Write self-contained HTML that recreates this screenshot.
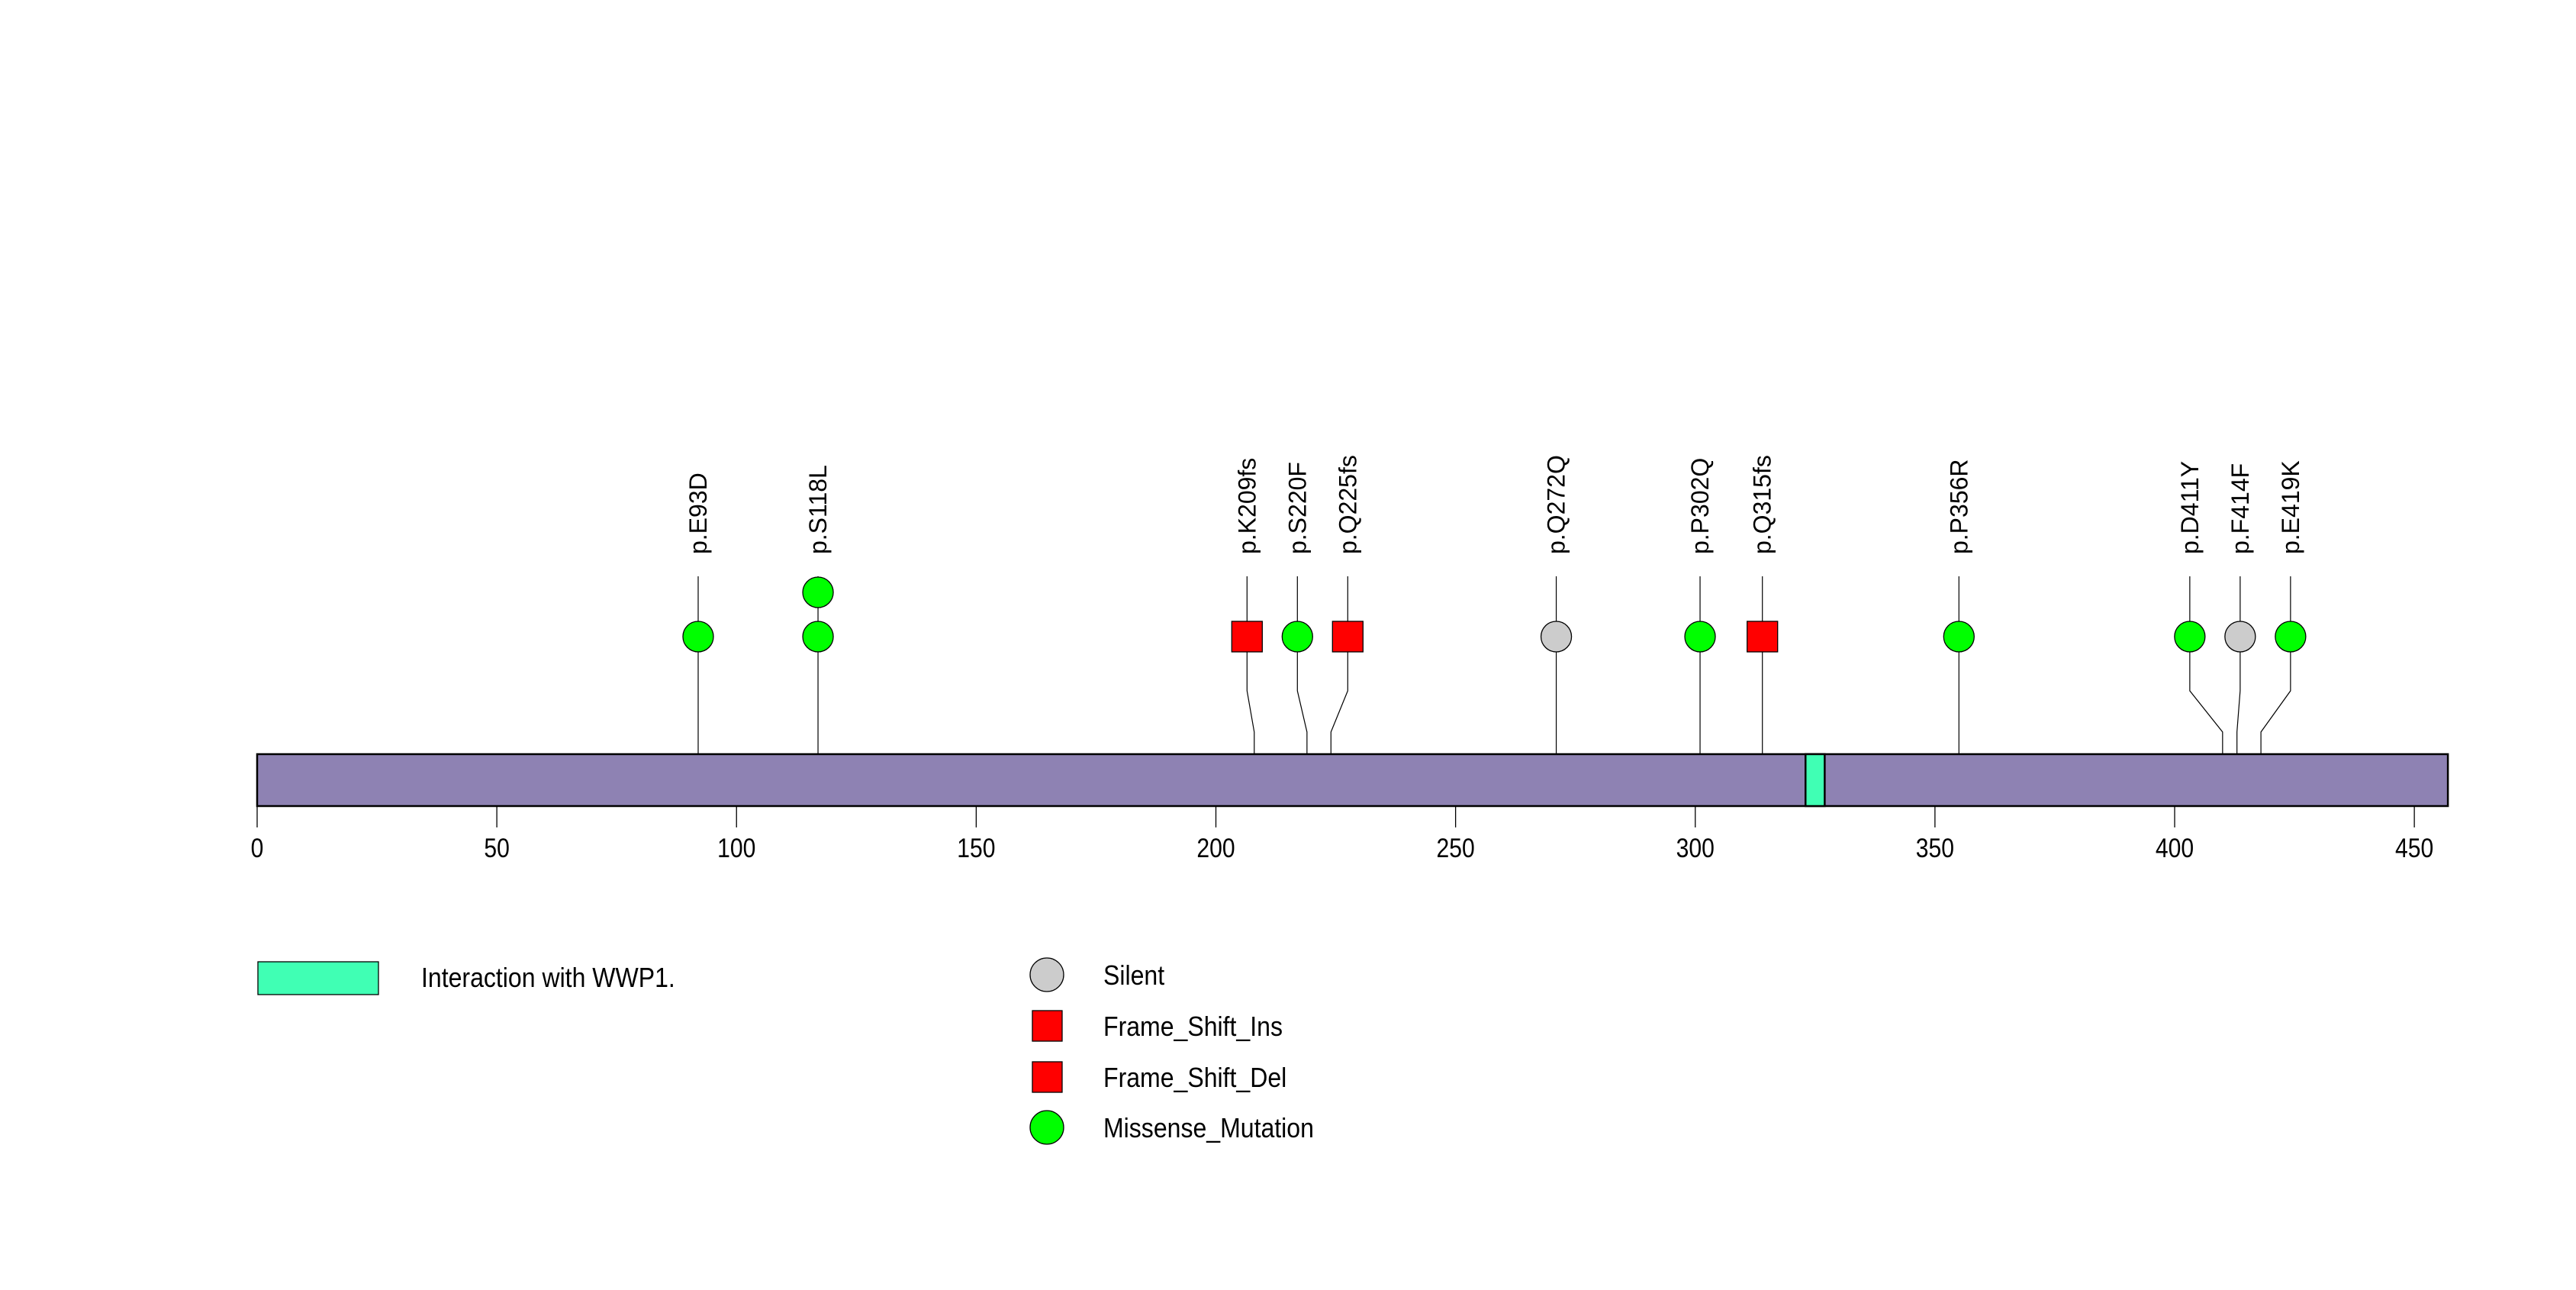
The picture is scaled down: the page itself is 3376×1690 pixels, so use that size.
<!DOCTYPE html>
<html><head><meta charset="utf-8"><style>
html,body{margin:0;padding:0;background:#fff;}
svg{display:block;}
text{font-family:"Liberation Sans",sans-serif;fill:#000;}
</style></head><body>
<svg id="chart" width="3376" height="1690" viewBox="0 0 3376 1690" xmlns="http://www.w3.org/2000/svg">
<g id="plot"></g>
<g id="legend"></g>
</svg>
<script>
const proteinLength = 457;
const tickValues = [0, 50, 100, 150, 200, 250, 300, 350, 400, 450];
const mutLabels = ["p.E93D","p.S118L","p.K209fs","p.S220F","p.Q225fs","p.Q272Q","p.P302Q","p.Q315fs","p.P356R","p.D411Y","p.F414F","p.E419K"];
const mutPositions = [92, 117, 208, 219, 224, 271, 301, 314, 355, 410, 413, 418];
const mutTypes = ["Missense_Mutation","Missense_Mutation","Frame_Shift_Ins","Missense_Mutation","Frame_Shift_Del","Silent","Missense_Mutation","Frame_Shift_Del","Missense_Mutation","Missense_Mutation","Silent","Missense_Mutation"];
const mutCounts = [1, 2, 1, 1, 1, 1, 1, 1, 1, 1, 1, 1];
const domainNames = ["Interaction with WWP1."];
const domainStarts = [323];
const domainEnds = [327];
const legendTypes = ["Silent","Frame_Shift_Ins","Frame_Shift_Del","Missense_Mutation"];

const NS = "http://www.w3.org/2000/svg";
const X0 = 337, PX = 6.2825;
const xs = v => X0 + v * PX;
const BAR_TOP = 988, BAR_BOT = 1056;
const colorOf = t => t === "Silent" ? "#cccccc" : (t.indexOf("Frame") === 0 ? "#ff0000" : "#00ff00");
const shapeOf = t => t.indexOf("Frame") === 0 ? "square" : "circle";
function mk(tag, attrs, parent) {
  const el = document.createElementNS(NS, tag);
  for (const k in attrs) el.setAttribute(k, attrs[k]);
  parent.appendChild(el);
  return el;
}
function narrowText(x, y, str, size, anchor, parent, sc) {
  const t = mk('text', {x: 0, y: 0, 'font-size': size, 'text-anchor': anchor, transform: `translate(${x} ${y}) scale(${sc} 1)`}, parent);
  t.textContent = str;
  return t;
}
const plot = document.getElementById('plot');
const legend = document.getElementById('legend');

const bar = mk('rect', {x: xs(0), y: BAR_TOP, width: xs(proteinLength) - xs(0), height: BAR_BOT - BAR_TOP, fill: '#8e82b3', stroke: '#000', 'stroke-width': 2.5}, plot);


domainStarts.forEach((s, i) => {
  const d = mk('rect', {x: xs(s), y: BAR_TOP, width: xs(domainEnds[i]) - xs(s), height: BAR_BOT - BAR_TOP, fill: '#40ffb4', stroke: '#000', 'stroke-width': 2.5}, plot);
  
  
});

tickValues.forEach(v => {
  const t = mk('line', {x1: xs(v), x2: xs(v), y1: BAR_BOT, y2: 1084, stroke: '#000', 'stroke-width': 1.3}, plot);
  
  
  const l = narrowText(xs(v), 1123, String(v), 35, 'middle', plot, 0.86);
  
  
});

const disp = mutPositions.map(xs);
const groups = [];
let cur = [0];
for (let i = 1; i < disp.length; i++) {
  if (disp[i] - disp[i - 1] < 75) cur.push(i); else { groups.push(cur); cur = [i]; }
}
groups.push(cur);
const show = disp.slice();
groups.forEach(g => {
  if (g.length < 2) return;
  const mean = g.reduce((a, i) => a + disp[i], 0) / g.length;
  g.forEach((i, k) => { show[i] = mean + (k - (g.length - 1) / 2) * 66; });
});

const CY = 834, STEP = 58, R = 20;
mutPositions.forEach((p, i) => {
  const bx = disp[i], sx = show[i];
  const path = mk('path', {d: `M${bx},${BAR_TOP} L${bx},959 L${sx},905 L${sx},755`, fill: 'none', stroke: '#000', 'stroke-width': 1.2}, plot);
  
  
  for (let c = 0; c < mutCounts[i]; c++) {
    const cy = CY - c * STEP;
    let m;
    if (shapeOf(mutTypes[i]) === 'square') {
      m = mk('rect', {x: sx - R, y: cy - R, width: 2 * R, height: 2 * R, fill: colorOf(mutTypes[i]), stroke: '#000', 'stroke-width': 1.3}, plot);
    } else {
      m = mk('circle', {cx: sx, cy: cy, r: R, fill: colorOf(mutTypes[i]), stroke: '#000', 'stroke-width': 1.3}, plot);
    }
    
    
  }
  const lbl = mk('text', {x: sx + 11, y: 726, 'font-size': 32, transform: `rotate(-90 ${sx + 11} 726)`}, plot);
  lbl.textContent = mutLabels[i];
  
  
});

domainNames.forEach((n, i) => {
  const r = mk('rect', {x: 338, y: 1260, width: 158, height: 43, fill: '#40ffb4', stroke: '#000', 'stroke-width': 1.3}, legend);
  
  
  const t = narrowText(552, 1293, n, 36, 'start', legend, 0.89);
  
  
});
const legendY = [1277, 1344, 1411, 1477];
legendTypes.forEach((t, i) => {
  const y = legendY[i];
  let m;
  if (shapeOf(t) === 'square') {
    m = mk('rect', {x: 1353, y: y - 20, width: 39, height: 40, fill: colorOf(t), stroke: '#000', 'stroke-width': 1.3}, legend);
  } else {
    m = mk('circle', {cx: 1372, cy: y, r: 22, fill: colorOf(t), stroke: '#000', 'stroke-width': 1.3}, legend);
  }
  
  
  const tx = narrowText(1446, y + 13, t, 36, 'start', legend, 0.89);
  
  
});
</script>
</body></html>
